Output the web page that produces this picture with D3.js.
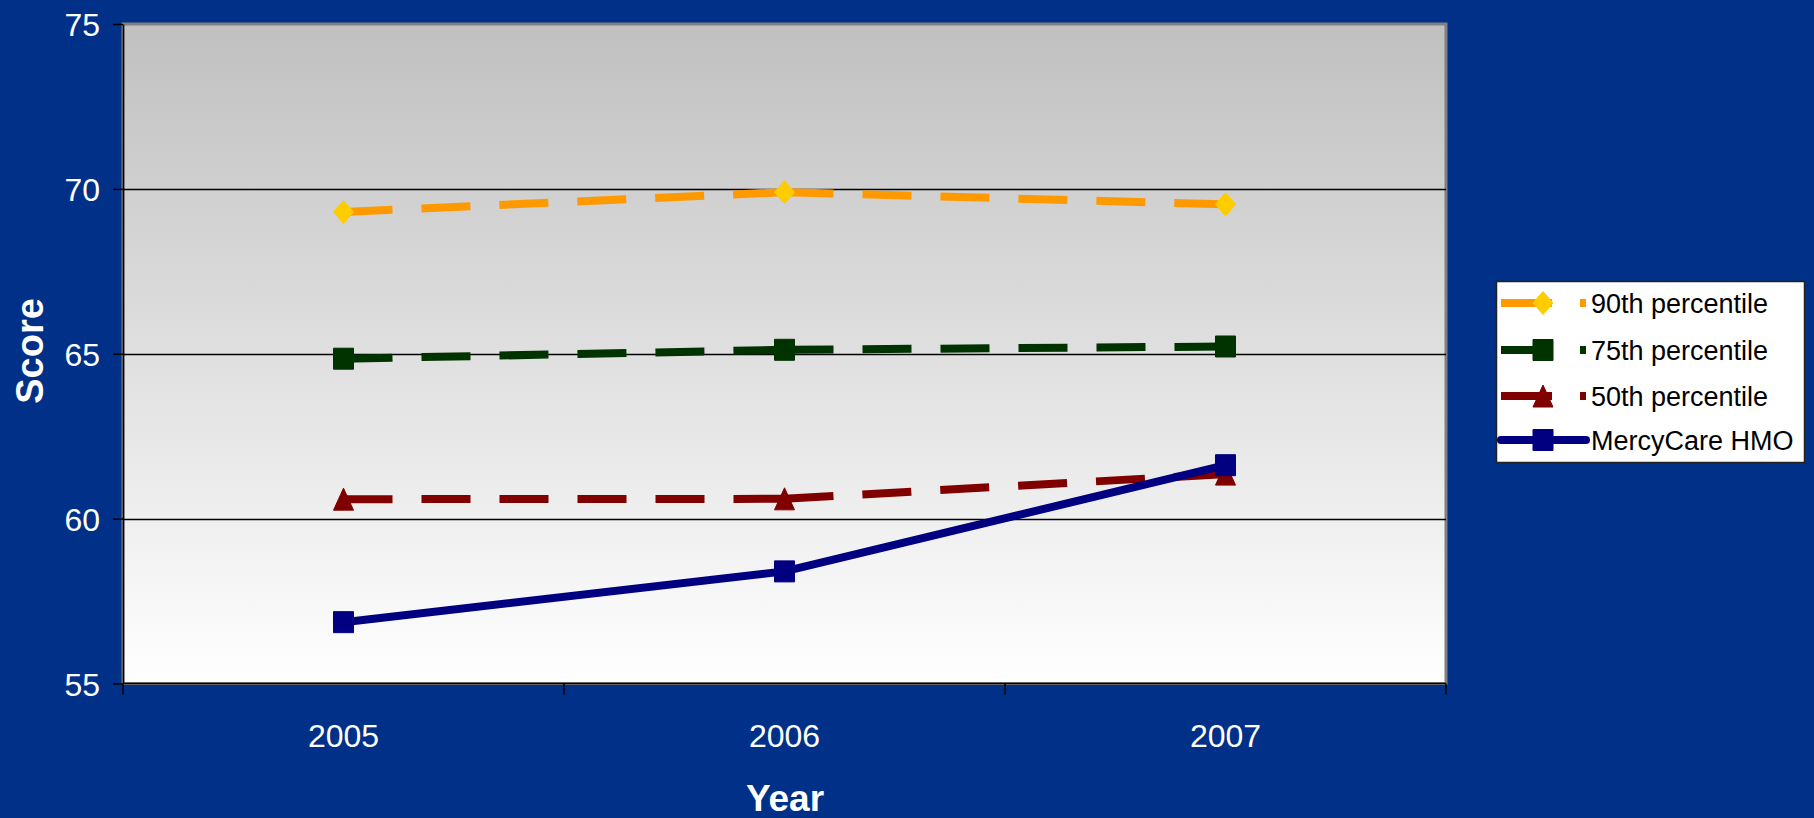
<!DOCTYPE html>
<html>
<head>
<meta charset="utf-8">
<script src="https://cdn.jsdelivr.net/npm/d3@7"></script>
<style>
  html, body { margin: 0; padding: 0; background: #003087; }
  svg { display: block; }
  text { font-family: "Liberation Sans", Arial, sans-serif; }
</style>
</head>
<body>
<svg id="chart" width="1814" height="818"></svg>
<script>
// ---- data ----
const years = ["2005", "2006", "2007"];
const p90 = [69.3, 69.9, 69.53];
const p75 = [64.85, 65.12, 65.22];
const p50 = [60.59, 60.6, 61.35];
const mercy = [56.86, 58.4, 61.62];
const yTicks = [55, 60, 65, 70, 75];
const gridValues = [60, 65, 70];
const seriesNames = ["90th percentile", "75th percentile", "50th percentile", "MercyCare HMO"];
const xTitle = "Year";
const yTitle = "Score";

// ---- layout ----
const W = 1814, H = 818;
const plot = { left: 123, right: 1446, top: 24, bottom: 683.5 };

const svg = d3.select("#chart");
svg.append("rect").attr("width", W).attr("height", H).attr("fill", "#003087");

const defs = svg.append("defs");
const grad = defs.append("linearGradient").attr("id", "plotGrad")
  .attr("x1", 0).attr("y1", 0).attr("x2", 0).attr("y2", 1);
grad.append("stop").attr("offset", "0%").attr("stop-color", "#c0c0c0");
grad.append("stop").attr("offset", "100%").attr("stop-color", "#ffffff");

const x = d3.scaleBand().domain(years).range([plot.left, plot.right]).padding(0);
const xc = d => x(d) + x.bandwidth() / 2;
const y = d3.scaleLinear().domain([55, 75]).range([plot.bottom, plot.top]);

// plot area
svg.append("rect")
  .attr("x", plot.left).attr("y", plot.top)
  .attr("width", plot.right - plot.left).attr("height", plot.bottom - plot.top)
  .attr("fill", "url(#plotGrad)")
  .attr("stroke", "#808080").attr("stroke-width", 3);

// gridlines
svg.append("g").selectAll("line").data(gridValues).join("line")
  .attr("x1", plot.left).attr("x2", plot.right)
  .attr("y1", d => Math.round(y(d)) + 0.5).attr("y2", d => Math.round(y(d)) + 0.5)
  .attr("stroke", "#000").attr("stroke-width", 1.3);

// y axis
const yAxis = svg.append("g").attr("transform", `translate(${plot.left},0)`)
  .call(d3.axisLeft(y).tickValues(yTicks).tickSize(10).tickPadding(13).tickSizeOuter(0));
yAxis.select(".domain").attr("stroke", "#000").attr("stroke-width", 1.5);
yAxis.selectAll(".tick line").attr("stroke", "#000").attr("stroke-width", 1.5);
yAxis.selectAll(".tick text").attr("fill", "#fff").attr("font-size", 32)
  .attr("font-family", "Liberation Sans, Arial, sans-serif").attr("dy", "0.36em");

// x axis line + ticks at category boundaries
const xBounds = years.map(d => x(d)).concat([plot.right]);
svg.append("line").attr("x1", plot.left).attr("x2", plot.right)
  .attr("y1", plot.bottom).attr("y2", plot.bottom)
  .attr("stroke", "#000").attr("stroke-width", 1.5);
svg.append("g").selectAll("line").data(xBounds).join("line")
  .attr("x1", d => d).attr("x2", d => d)
  .attr("y1", plot.bottom).attr("y2", plot.bottom + 11)
  .attr("stroke", "#000").attr("stroke-width", 1.5);
svg.append("g").selectAll("text").data(years).join("text")
  .attr("x", d => xc(d)).attr("y", 747)
  .attr("text-anchor", "middle").attr("fill", "#fff").attr("font-size", 32)
  .text(d => d);

// axis titles
svg.append("text").attr("x", 785).attr("y", 811).attr("text-anchor", "middle")
  .attr("fill", "#fff").attr("font-size", 37).attr("font-weight", "bold").text(xTitle);
svg.append("text").attr("transform", "translate(43,351) rotate(-90)")
  .attr("text-anchor", "middle").attr("fill", "#fff").attr("font-size", 38)
  .attr("font-weight", "bold").text(yTitle);

// ---- series ----
const markerPath = {
  diamond: "M0,-11.5L10,0L0,11.5L-10,0Z",
  square: "M-10,-10.5L10,-10.5L10,10.5L-10,10.5Z",
  triangle: "M0,-11L10,11L-10,11Z"
};
const series = [
  { name: seriesNames[0], values: p90, color: "#ff9900", mcolor: "#ffcc00", marker: "diamond", dash: "49,29" },
  { name: seriesNames[1], values: p75, color: "#003300", mcolor: "#003300", marker: "square", dash: "49,29" },
  { name: seriesNames[2], values: p50, color: "#800000", mcolor: "#800000", marker: "triangle", dash: "49,29" },
  { name: seriesNames[3], values: mercy, color: "#000080", mcolor: "#000080", marker: "square", dash: null }
];

const line = d3.line().x(d => xc(d.year)).y(d => y(d.v));

series.forEach(s => {
  const pts = years.map((yr, i) => ({ year: yr, v: s.values[i] }));
  const g = svg.append("g");
  if (s.dash) {
    // Excel restarts the dash pattern on each segment
    const segs = d3.pairs(pts);
    g.selectAll("path.seg").data(segs).join("path").attr("class", "seg")
      .attr("d", d => line(d))
      .attr("fill", "none").attr("stroke", s.color).attr("stroke-width", 8)
      .attr("stroke-dasharray", s.dash).attr("stroke-linecap", "butt");
  } else {
    g.append("path").attr("d", line(pts))
      .attr("fill", "none").attr("stroke", s.color).attr("stroke-width", 8)
      .attr("stroke-linejoin", "round");
  }
  g.selectAll("path.mk").data(pts).join("path").attr("class", "mk")
    .attr("transform", d => `translate(${xc(d.year)},${y(d.v)})`)
    .attr("d", markerPath[s.marker])
    .attr("fill", s.mcolor).attr("stroke", s.mcolor).attr("stroke-width", 1)
    .attr("stroke-linejoin", "round");
});

// ---- legend ----
const lg = svg.append("g");
lg.append("rect").attr("x", 1496.5).attr("y", 281.5).attr("width", 308).attr("height", 181)
  .attr("fill", "#fff").attr("stroke", "#222").attr("stroke-width", 1.5);
const rowY = [303, 350, 396, 440];
series.forEach((s, i) => {
  const ry = rowY[i];
  lg.append("line").attr("x1", 1501).attr("x2", 1586).attr("y1", ry).attr("y2", ry)
    .attr("stroke", s.color).attr("stroke-width", 8)
    .attr("stroke-dasharray", s.dash ? "51,28" : null)
    .attr("stroke-linecap", s.dash ? "butt" : "round");
  lg.append("path").attr("transform", `translate(1543,${ry})`)
    .attr("d", markerPath[s.marker]).attr("fill", s.mcolor).attr("stroke", s.mcolor);
  lg.append("text").attr("x", 1591).attr("y", ry + 10).attr("font-size", 27)
    .attr("fill", "#000").text(s.name);
});
</script>
</body>
</html>
